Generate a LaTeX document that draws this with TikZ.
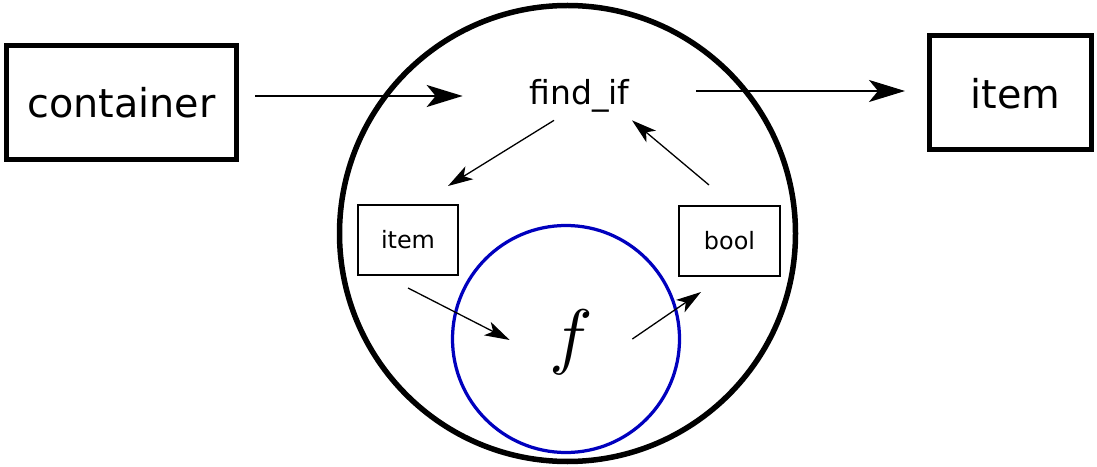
\documentclass[tikz,border=0pt]{standalone}
\usepackage{fontspec}
\setmainfont{DejaVu Sans}
\usetikzlibrary{arrows.meta}
\definecolor{fblue}{RGB}{0,0,190}

\begin{document}
\begin{tikzpicture}[
		bigbox/.style = {draw, line width=.1cm, minimum height=2.28cm, font=\fontsize{22.6pt}{27pt}\selectfont},
		smallbox/.style = {draw, line width=.04cm, minimum width=2cm, minimum height=1.4cm, font=\fontsize{13.6pt}{16pt}\selectfont},
		bigarrow/.style = {line width=.04cm, -{Stealth[length=.72cm, width=.44cm, inset=.18cm]}},
		smallarrow/.style = {line width=.026cm, -{Stealth[length=.5cm, width=.3cm, inset=.13cm]}}
	]
				\useasboundingbox (0,0) rectangle (21.94,9.32);
				\draw[line width=.11cm] (11.35,4.65) circle (4.56cm);
				\draw[line width=.065cm, fblue] (11.32,2.54) circle (2.27cm);
				\node[bigbox, minimum width=4.58cm] (container) at (2.43,7.26) {container};
				\node[bigbox, minimum width=3.24cm, text depth=0pt] (result) at (20.21,7.46) {\hspace{.2cm}item};
				\node[inner sep=0, minimum width=4.66cm, minimum height=.96cm, font=\fontsize{18.8pt}{22pt}\selectfont] (findif) at (11.59,7.40) {find\_if};
				\node[smallbox] (arg) at (8.16,4.52) {item};
				\node[smallbox, minimum width=2.02cm] (bool) at (14.59,4.5) {bool};
				\node[inner sep=0, minimum width=2.44cm] (f) at (11.42,2.48) {\scalebox{4.15}{$f$}};
				% outer call
				\draw[bigarrow, shorten <=.33cm] (container.east |- findif.west) -- (findif.west);
				\draw[bigarrow, shorten >=.44cm] ([yshift=.1cm]findif.east) -- ([yshift=.1cm]findif.east -| result.west);
				% predicate loop
				\draw[smallarrow] ([xshift=-.51cm]findif.south) -- ([xshift=.8cm, yshift=.36cm]arg.north);
				\draw[smallarrow] ([yshift=-.24cm]arg.south) -- ([yshift=.04cm]f.west);
				\draw[smallarrow] ([yshift=.06cm]f.east) -- ([xshift=-.57cm, yshift=-.3cm]bool.south);
				\draw[smallarrow] ([xshift=-.41cm, yshift=.4cm]bool.north) -- ([xshift=1.05cm]findif.south);
\end{tikzpicture}
\end{document}
